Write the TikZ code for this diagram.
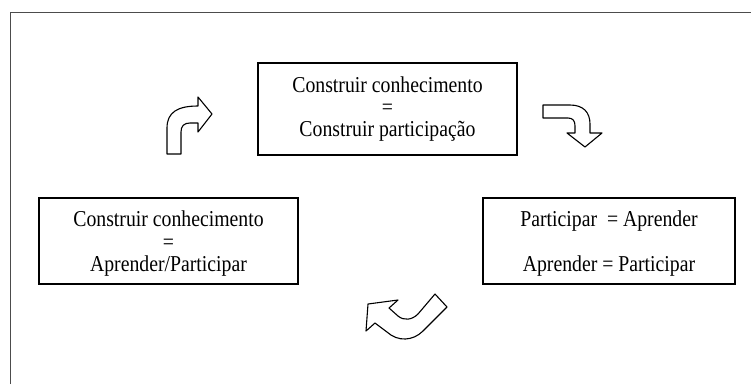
\documentclass[tikz,border=0pt]{standalone}
\usepackage{fontspec}
\setmainfont{Liberation Serif}[FakeStretch=0.87]
\usepackage{tikz}
\usetikzlibrary{positioning}

\begin{document}
\begin{tikzpicture}[x=1pt, y=-1pt,
		BoxStyle/.style={draw, line width=1.6pt, align=center, inner sep=0pt, outer sep=0pt, font=\fontsize{22.7}{22.3}\selectfont},
		BendArrow/.style={draw, line width=1.1pt, line join=round, fill=white}]
	\useasboundingbox (0,0) rectangle (751,384);
	% outer frame
	\draw[gray!60!black, line width=0.8pt] (10,384) -- (10,12) -- (751,12);
	% the three boxes
	\node[BoxStyle, minimum width=259pt, minimum height=92pt] (constr) at (387.5,109) {Construir conhecimento\\=\\Construir participação};
	\node[BoxStyle, minimum width=252pt, minimum height=86pt] (partic) at (609,241) {\rule{0pt}{21pt}Participar\ \ = Aprender\\ \\Aprender = Participar};
	\node[BoxStyle, minimum width=259pt, minimum height=86pt] (aprend) at (168.5,241) {\rule{0pt}{21pt}Construir conhecimento\\=\\Aprender/Participar};
	% bent block arrows
	\draw[BendArrow] (167,154) -- (167,128) .. controls (167,112) and (178,106) .. (198,106) -- (198,97) -- (212,114) -- (198,132) -- (198,123) -- (190,123) .. controls (184,123) and (181,126) .. (181,132) -- (181,154) -- cycle;
	\draw[BendArrow] (543,105) -- (570,105) .. controls (583,105) and (590,112) .. (590,124) -- (590,133) -- (602,133) -- (585,147) -- (567,133) -- (575,133) -- (575,126) .. controls (575,121) and (573,118) .. (568,118) -- (543,118) -- cycle;
	\draw[BendArrow] (435,294) -- (447,307) -- (423,331) .. controls (413,341) and (398,342) .. (387,332) -- (375,323) -- (366,331) -- (368,304) -- (398,300) -- (389,308) -- (398,316) .. controls (404,321) and (412,320) .. (418,314) -- cycle;
\end{tikzpicture}
\end{document}
